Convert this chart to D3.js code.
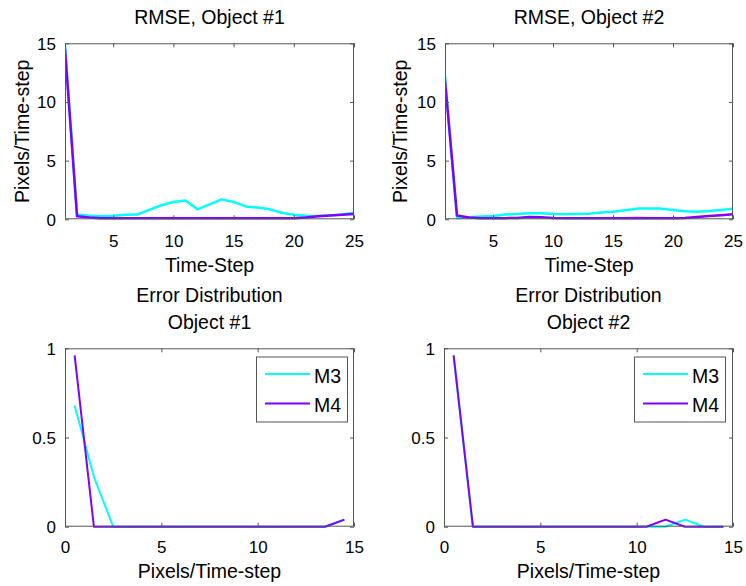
<!DOCTYPE html>
<html>
<head>
<meta charset="utf-8">
<script src="https://cdn.jsdelivr.net/npm/d3@7"></script>
<style>
  html, body { margin: 0; padding: 0; background: #fff; }
  svg { display: block; font-family: "Liberation Sans", Arial, Helvetica, sans-serif; }
</style>
</head>
<body>
<svg id="chart" width="746" height="586"></svg>
<script>
// ---------- DATA ----------
const timeSteps = [1,2,3,4,5,6,7,8,9,10,11,12,13,14,15,16,17,18,19,20,21,22,23,24,25];
const rmseObj1M3 = [14.8,0.40,0.30,0.25,0.30,0.38,0.40,0.80,1.20,1.48,1.60,0.85,1.28,1.70,1.48,1.10,1.00,0.85,0.55,0.38,0.30,0.28,0.32,0.42,0.56];
const rmseObj1M4 = [14.5,0.25,0.15,0.08,0.08,0.08,0.08,0.08,0.08,0.08,0.08,0.08,0.08,0.08,0.08,0.08,0.08,0.10,0.10,0.10,0.15,0.25,0.32,0.38,0.45];
const rmseObj2M3 = [12.2,0.08,0.17,0.23,0.28,0.40,0.45,0.51,0.51,0.45,0.42,0.45,0.48,0.57,0.65,0.77,0.91,0.93,0.91,0.80,0.68,0.65,0.71,0.80,0.91];
const rmseObj2M4 = [11.8,0.32,0.15,0.10,0.10,0.10,0.12,0.20,0.18,0.12,0.10,0.10,0.10,0.10,0.10,0.10,0.12,0.10,0.10,0.10,0.12,0.20,0.28,0.35,0.42];

const binCenters = [0.5,1.5,2.5,3.5,4.5,5.5,6.5,7.5,8.5,9.5,10.5,11.5,12.5,13.5,14.5];
const distObj1M3 = [0.68,0.28,0,0,0,0,0,0,0,0,0,0,0,0,0.04];
const distObj1M4 = [0.96,0,0,0,0,0,0,0,0,0,0,0,0,0,0.04];
const distObj2M3 = [0.96,0,0,0,0,0,0,0,0,0,0,0,0.04,0,0];
const distObj2M4 = [0.96,0,0,0,0,0,0,0,0,0,0,0.04,0,0,0];

const rmseXTicks = [5,10,15,20,25];
const rmseYTicks = [0,5,10,15];
const distXTicks = [0,5,10,15];
const distYTicks = [0,0.5,1];
const distYTickLabels = ["0","0.5","1"];

const seriesNames = ["M3","M4"];
const seriesColors = ["#00ffff","#8000ff"];

// ---------- DRAW ----------
const svg = d3.select("#chart");
const frameColor = "#555";
const tickFont = 17, labelFont = 19.5;

function panel(opts) {
  const {x0, x1, y0, y1, xDomain, yDomain, xTicks, yTicks, yTickFmt, titles, titleY,
         xLabel, xLabelY, yLabel, yLabelX, xs, ys, lw, legend} = opts;
  const x = d3.scaleLinear().domain(xDomain).range([x0, x1]);
  const y = d3.scaleLinear().domain(yDomain).range([y1, y0]);
  const g = svg.append("g");

  const clipId = "clip" + Math.round(x0) + "_" + Math.round(y0);
  g.append("clipPath").attr("id", clipId).append("rect")
    .attr("x", x0).attr("y", y0 - 2).attr("width", x1 - x0).attr("height", y1 - y0 + 4);

  // lines
  const line = d3.line().x(d => x(d[0])).y(d => y(d[1]));
  ys.forEach((vals, i) => {
    g.append("path")
      .datum(xs.map((v, j) => [v, vals[j]]))
      .attr("d", line)
      .attr("fill", "none")
      .attr("stroke", seriesColors[i])
      .attr("stroke-width", lw)
      .attr("stroke-linejoin", "round")
      .attr("clip-path", `url(#${clipId})`);
  });

  // axes (ticks inward, on all four sides)
  const tl = 4;
  const axB = d3.axisBottom(x).tickValues(xTicks).tickSize(-tl).tickPadding(tl + 10).tickFormat(d3.format("d"));
  const axT = d3.axisTop(x).tickValues(xTicks).tickSize(-tl).tickFormat("");
  const axL = d3.axisLeft(y).tickValues(yTicks).tickSize(-tl).tickPadding(tl + 5).tickFormat(yTickFmt);
  const axR = d3.axisRight(y).tickValues(yTicks).tickSize(-tl).tickFormat("");

  const gB = g.append("g").attr("transform", `translate(0,${y1})`).call(axB);
  const gT = g.append("g").attr("transform", `translate(0,${y0})`).call(axT);
  const gL = g.append("g").attr("transform", `translate(${x0},0)`).call(axL);
  const gR = g.append("g").attr("transform", `translate(${x1},0)`).call(axR);
  [gB, gT, gL, gR].forEach(a => {
    a.selectAll("path.domain").remove();
    a.selectAll(".tick line").attr("stroke", frameColor);
    a.selectAll("text").attr("fill", "#000").style("font-size", tickFont + "px")
      .style("font-family", "'Liberation Sans', Arial, sans-serif");
  });
  gB.selectAll(".tick text").attr("y", opts.xTickY - y1).attr("dy", 0);
  gL.selectAll(".tick text").attr("dy", "0.35em");

  // frame
  g.append("rect").attr("x", x0 + 0.5).attr("y", y0 + 0.5)
    .attr("width", x1 - x0 - 1).attr("height", y1 - y0 - 1)
    .attr("fill", "none").attr("stroke", frameColor).attr("stroke-width", 1);

  // titles
  titles.forEach((t, i) => {
    svg.append("text").attr("x", (x0 + x1) / 2).attr("y", titleY[i])
      .attr("text-anchor", "middle").style("font-size", labelFont + "px").text(t);
  });
  svg.append("text").attr("x", (x0 + x1) / 2).attr("y", xLabelY)
    .attr("text-anchor", "middle").style("font-size", labelFont + "px").text(xLabel);
  if (yLabel) {
    svg.append("text")
      .attr("transform", `translate(${yLabelX},${(y0 + y1) / 2}) rotate(-90)`)
      .attr("text-anchor", "middle").style("font-size", labelFont + "px").text(yLabel);
  }

  // legend
  if (legend) {
    const L = legend;
    svg.append("rect").attr("x", L.x + 0.5).attr("y", L.y + 0.5)
      .attr("width", L.w).attr("height", L.h)
      .attr("fill", "#fff").attr("stroke", frameColor).attr("stroke-width", 1);
    seriesNames.forEach((n, i) => {
      const ly = L.y + 17.5 + i * 29.5;
      svg.append("line").attr("x1", L.x + 9).attr("x2", L.x + 54)
        .attr("y1", ly).attr("y2", ly)
        .attr("stroke", seriesColors[i]).attr("stroke-width", 2);
      svg.append("text").attr("x", L.x + 58).attr("y", ly + 8.5)
        .style("font-size", labelFont + "px").text(n);
    });
  }
}

// Top-left
panel({x0: 65, x1: 354, y0: 43.3, y1: 219.3, xDomain: [1, 25], yDomain: [0, 15],
  xTicks: rmseXTicks, yTicks: rmseYTicks, yTickFmt: d3.format("d"),
  titles: ["RMSE, Object #1"], titleY: [24], xTickY: 247,
  xLabel: "Time-Step", xLabelY: 272, yLabel: "Pixels/Time-step", yLabelX: 29,
  xs: timeSteps, ys: [rmseObj1M3, rmseObj1M4], lw: 2.5});

// Top-right
panel({x0: 445, x1: 733, y0: 43.3, y1: 219.3, xDomain: [1, 25], yDomain: [0, 15],
  xTicks: rmseXTicks, yTicks: rmseYTicks, yTickFmt: d3.format("d"),
  titles: ["RMSE, Object #2"], titleY: [24], xTickY: 247,
  xLabel: "Time-Step", xLabelY: 272, yLabel: "Pixels/Time-step", yLabelX: 407,
  xs: timeSteps, ys: [rmseObj2M3, rmseObj2M4], lw: 2.5});

// Bottom-left
panel({x0: 65, x1: 354, y0: 348.3, y1: 526.7, xDomain: [0, 15], yDomain: [0, 1],
  xTicks: distXTicks, yTicks: distYTicks, yTickFmt: (d, i) => distYTickLabels[i],
  titles: ["Error Distribution", "Object #1"], titleY: [301.7, 329], xTickY: 553,
  xLabel: "Pixels/Time-step", xLabelY: 578, yLabel: null,
  xs: binCenters, ys: [distObj1M3, distObj1M4], lw: 2,
  legend: {x: 256, y: 356.5, w: 91, h: 65}});

// Bottom-right
panel({x0: 444, x1: 733, y0: 348.3, y1: 526.7, xDomain: [0, 15], yDomain: [0, 1],
  xTicks: distXTicks, yTicks: distYTicks, yTickFmt: (d, i) => distYTickLabels[i],
  titles: ["Error Distribution", "Object #2"], titleY: [301.7, 329], xTickY: 553,
  xLabel: "Pixels/Time-step", xLabelY: 578, yLabel: null,
  xs: binCenters, ys: [distObj2M3, distObj2M4], lw: 2,
  legend: {x: 634, y: 356.5, w: 91, h: 65}});
</script>
</body>
</html>
